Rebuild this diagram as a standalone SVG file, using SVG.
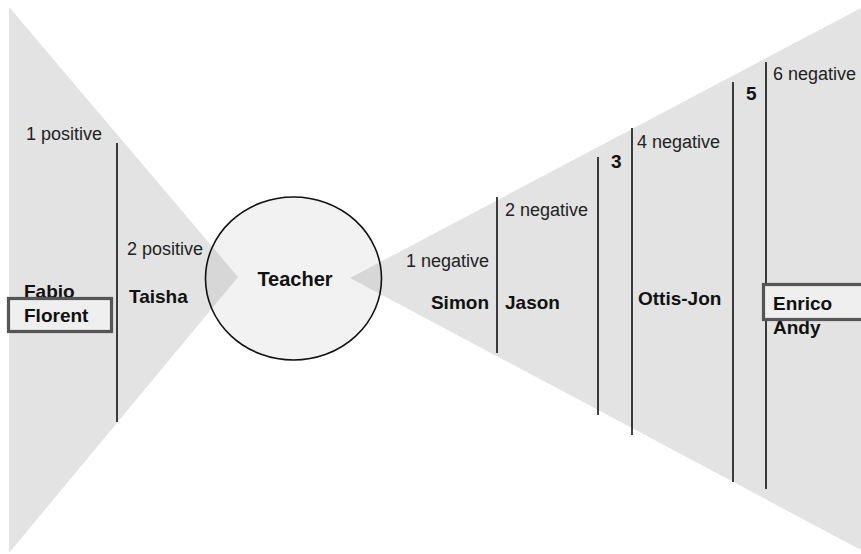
<svg xmlns="http://www.w3.org/2000/svg" width="861" height="554" viewBox="0 0 861 554">
  <style>
    .fan { fill: #e3e3e3; stroke: none; }
    .div { stroke: #111; stroke-width: 1.6; }
    .lbl { font-family: "Liberation Sans", Arial, sans-serif; font-size: 18px; fill: #222; }
    .name { font-family: "Liberation Sans", Arial, sans-serif; font-size: 19px; font-weight: bold; fill: #111; }
    .box { fill: #efefef; stroke: #555; stroke-width: 3.2; }
  </style>
  <rect x="0" y="0" width="861" height="554" fill="#ffffff"/>

  <g id="fans">
    <polygon class="fan" points="9,7 238,277 9,553"/>
    <polygon class="fan" points="350,278 861,8 861,550"/>
  </g>

  <g id="connectors">
    <line class="div" x1="117" y1="143" x2="117" y2="422"/>
    <line class="div" x1="497" y1="197" x2="497" y2="353"/>
    <line class="div" x1="598" y1="157" x2="598" y2="415"/>
    <line class="div" x1="632" y1="128" x2="632" y2="435"/>
    <line class="div" x1="733" y1="82" x2="733" y2="482"/>
    <line class="div" x1="766" y1="62" x2="766" y2="489"/>
  </g>

  <g id="teacher">
    <ellipse cx="293.5" cy="278.5" rx="88" ry="81.5" fill="#000" fill-opacity="0.05" stroke="#111" stroke-width="1.6"/>
    <text class="name" x="295" y="286" text-anchor="middle" style="font-size:20px">Teacher</text>
  </g>

  <g id="level-pos1">
    <text class="lbl" x="26" y="140">1 positive</text>
    <text class="name" x="24" y="298">Fabio</text>
    <rect class="box" x="8.5" y="298.5" width="103" height="33"/>
    <text class="name" x="24" y="322">Florent</text>
  </g>

  <g id="level-pos2">
    <text class="lbl" x="127" y="255">2 positive</text>
    <text class="name" x="129" y="303">Taisha</text>
  </g>

  <g id="level-neg1">
    <text class="lbl" x="489" y="267" text-anchor="end">1 negative</text>
    <text class="name" x="489" y="309" text-anchor="end">Simon</text>
  </g>

  <g id="level-neg2">
    <text class="lbl" x="505" y="216">2 negative</text>
    <text class="name" x="505" y="309">Jason</text>
  </g>

  <g id="level-neg3">
    <text class="name" x="611" y="168">3</text>
  </g>

  <g id="level-neg4">
    <text class="lbl" x="637" y="148">4 negative</text>
    <text class="name" x="638" y="305">Ottis-Jon</text>
  </g>

  <g id="level-neg5">
    <text class="name" x="746" y="100">5</text>
  </g>

  <g id="level-neg6">
    <text class="lbl" x="773" y="80">6 negative</text>
    <text class="name" x="773" y="334">Andy</text>
    <rect class="box" x="763.5" y="284.5" width="100" height="35"/>
    <text class="name" x="773" y="310">Enrico</text>
  </g>
</svg>
